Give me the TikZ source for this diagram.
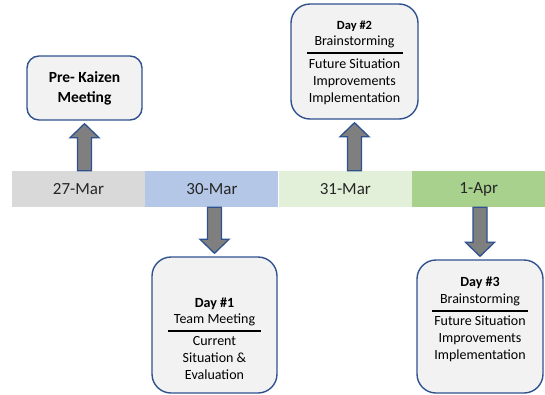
\documentclass[tikz,border=0pt]{standalone}
\usepackage{fontspec}
\setmainfont{Carlito}
\usepackage{xcolor}
\usetikzlibrary{positioning,calc}

\definecolor{barGray}{HTML}{D9D9D9}
\definecolor{barBlue}{HTML}{B4C7E7}
\definecolor{barLight}{HTML}{E2F0D9}
\definecolor{barGreen}{HTML}{A9D18E}
\definecolor{boxBlue}{HTML}{2F528F}
\definecolor{boxFill}{HTML}{F2F2F2}
\definecolor{arrGray}{HTML}{7F7F7F}

\tikzset{
  datebox/.style={minimum width=133pt,minimum height=36pt,inner sep=0pt,
    font=\fontsize{17}{20}\selectfont,text=black!85},
  daybox/.style={draw=boxBlue,line width=1.4pt,fill=boxFill,rounded corners=19pt},
  daytext/.style={align=center,inner sep=0pt,font=\fontsize{14}{17}\selectfont},
  fatarr/.style={draw=boxBlue,line width=1.3pt,fill=arrGray,line join=miter}
}

% block arrow from a date (#1) to a box (#2)
\newcommand{\fatarrow}[2]{%
  \path (#2 |- #1) coordinate (ab) ($(#2)!3pt!(ab)$) coordinate (at)
    ($(at)!14pt!(ab)$) coordinate (ah);
  \draw[fatarr] ($(ab)+(-7pt,0)$) -- ($(ah)+(-7pt,0)$) -- ($(ah)+(-14.5pt,0)$)
    -- (at) -- ($(ah)+(14.5pt,0)$) -- ($(ah)+(7pt,0)$) -- ($(ab)+(7pt,0)$) -- cycle;}

\begin{document}
\begin{tikzpicture}[x=1pt,y=-1pt]
  \useasboundingbox (0,0) rectangle (545,394);
  % timeline
  \node[datebox,fill=barGray] (d27) at (78.5,189) {27-Mar};
  \node[datebox,fill=barBlue,right=0pt of d27] (d30) {30-Mar};
  \node[datebox,fill=barLight,right=0pt of d30] (d31) {31-Mar};
  \node[datebox,fill=barGreen,right=0pt of d31] (d01) {1-Apr};
  % boxes
  \node[daybox,rounded corners=12pt,minimum width=115pt,minimum height=64pt,align=center,
    font=\bfseries\fontsize{15.5}{20}\selectfont] (pre) at (84.5,88) {Pre- Kaizen\\Meeting};
  \node[daybox,minimum width=127pt,minimum height=115pt] (day2) at (354.5,61.5) {};
  \node[daybox,minimum width=125pt,minimum height=136pt] (day1) at (214.5,325) {};
  \node[daybox,minimum width=126pt,minimum height=133pt] (day3) at (480,326.5) {};
  \node[daytext,below=17pt of day2.north] (day2txt)
    {{\bfseries\fontsize{12.5}{15}\selectfont Day \#2}\\[-1pt]Brainstorming\\[-8pt]
     \rule{96pt}{1.8pt}\\[-3pt]Future Situation\\Improvements\\Implementation};
  \node[daytext,below=41pt of day1.north] (day1txt)
    {\textbf{Day \#1}\\[-1pt]Team Meeting\\[-8pt]
     \rule{93pt}{1.8pt}\\[-4pt]Current\\Situation \&\\Evaluation};
  \node[daytext,below=17pt of day3.north] (day3txt)
    {\textbf{Day \#3}\\Brainstorming\\[-8pt]
     \rule{96pt}{1.8pt}\\[-4pt]Future Situation\\Improvements\\Implementation};
  % arrows
  \fatarrow{d27.north}{pre.south}
  \fatarrow{d31.north}{day2.south}
  \fatarrow{d30.south}{day1.north}
  \fatarrow{d01.south}{day3.north}
\end{tikzpicture}
\end{document}
